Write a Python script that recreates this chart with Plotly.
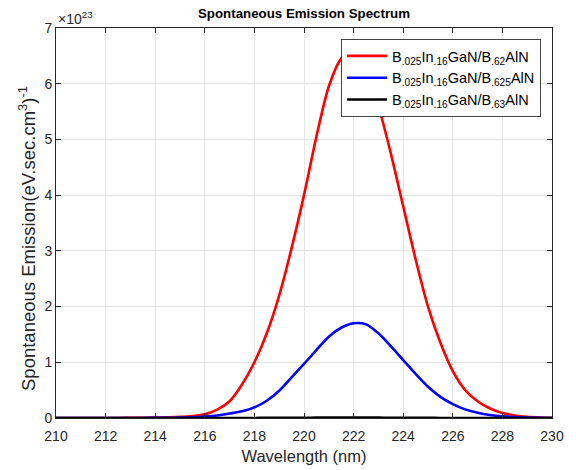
import plotly.graph_objects as go

# Wavelength samples (nm)
wavelength = [210, 210.5, 211, 211.5, 212, 212.5, 213, 213.5, 214, 214.5,
              215, 215.5, 216, 216.5, 217, 217.5, 218, 218.5, 219, 219.5,
              220, 220.5, 221, 221.5, 222, 222.5, 223, 223.5, 224, 224.5,
              225, 225.5, 226, 226.5, 227, 227.5, 228, 228.5, 229, 229.5, 230]

# Spontaneous emission in units of 1e23 (eV.sec.cm^3)^-1
red_e23 = [0, 0, 0, 0, 0, 0.001, 0.002, 0.004, 0.007, 0.012,
           0.02, 0.035, 0.065, 0.15, 0.3, 0.6, 1.0, 1.52, 2.2, 3.05,
           4.0, 5.05, 5.95, 6.45, 6.6, 6.3, 5.6, 4.75, 3.8, 2.85,
           2.0, 1.35, 0.84, 0.5, 0.3, 0.17, 0.09, 0.045, 0.02, 0.008, 0.003]

blue_e23 = [0, 0, 0, 0, 0, 0, 0, 0.001, 0.002, 0.003,
            0.006, 0.012, 0.025, 0.045, 0.08, 0.12, 0.19, 0.31, 0.49, 0.73,
            0.97, 1.22, 1.46, 1.62, 1.70, 1.68, 1.52, 1.29, 1.04, 0.79,
            0.56, 0.38, 0.25, 0.155, 0.095, 0.055, 0.03, 0.015, 0.007, 0.003, 0.001]

black_e23 = [0, 0, 0, 0, 0, 0, 0, 0, 0, 0,
             0, 0, 0, 0, 0, 0.001, 0.001, 0.002, 0.003, 0.004,
             0.005, 0.006, 0.007, 0.007, 0.007, 0.007, 0.006, 0.005, 0.004, 0.003,
             0.002, 0.001, 0.001, 0.001, 0, 0, 0, 0, 0, 0, 0]

names = ["B<sub>.025</sub>In<sub>.16</sub>GaN/B<sub>.62</sub>AlN",
         "B<sub>.025</sub>In<sub>.16</sub>GaN/B<sub>.625</sub>AlN",
         "B<sub>.025</sub>In<sub>.16</sub>GaN/B<sub>.63</sub>AlN"]
colors = ["#FF0000", "#0000FF", "#000000"]

x_ticks = [210, 212, 214, 216, 218, 220, 222, 224, 226, 228, 230]
y_ticks = [0, 1, 2, 3, 4, 5, 6, 7]

fig = go.Figure()
for ys, nm, c in zip([red_e23, blue_e23, black_e23], names, colors):
    fig.add_trace(go.Scatter(x=wavelength, y=ys, mode="lines", name=nm,
                             line=dict(color=c, width=2.6, shape="spline", smoothing=0.8)))

axcol = "#262626"
FONT = "Liberation Sans, Arial, sans-serif"
W, H = 576, 470
fig.update_layout(
    width=W, height=H,
    margin=dict(l=56, r=24, t=28, b=52, autoexpand=False),
    paper_bgcolor="white", plot_bgcolor="white",
    font=dict(family=FONT, size=14, color=axcol),
    title=dict(text="<b>Spontaneous Emission Spectrum</b>", x=304 / W, xanchor="center",
               xref="container", yref="container",
               y=1 - 13 / H, yanchor="middle", font=dict(size=13.3, color="#000000")),
    showlegend=True,
    legend=dict(x=0.978, y=0.972, xanchor="right", yanchor="top",
                bgcolor="white", bordercolor="#444444", borderwidth=1,
                font=dict(size=14.5, color="#000000"), tracegroupgap=0,
                itemwidth=40),
)
fig.update_xaxes(range=[210, 230], tickvals=x_ticks, ticks="inside", ticklen=5,
                 tickcolor=axcol, showline=True, linecolor=axcol, linewidth=1,
                 mirror="ticks", showgrid=True, gridcolor="#E6E6E6", zeroline=False,
                 ticklabelstandoff=5,
                 title=dict(text="Wavelength (nm)", font=dict(size=16.5), standoff=7),
                 tickfont=dict(size=14))
fig.update_yaxes(range=[0, 7], tickvals=y_ticks, ticks="inside", ticklen=5,
                 tickcolor=axcol, showline=True, linecolor=axcol, linewidth=1,
                 mirror="ticks", showgrid=True, gridcolor="#E6E6E6", zeroline=False,
                 tickfont=dict(size=14))
fig.add_annotation(text="Spontaneous Emission(eV.sec.cm<sup>3</sup>)<sup>-1</sup>",
                   xref="paper", yref="paper", x=(27 - 56) / 496, y=(418 - 239) / 390,
                   xanchor="center", yanchor="middle", textangle=-90, showarrow=False,
                   font=dict(size=18.5, color=axcol))
fig.add_annotation(text="×10<sup>23</sup>", xref="paper", yref="paper", x=0.0, y=1.0,
                   xanchor="left", yanchor="bottom", showarrow=False,
                   font=dict(size=14, color=axcol), yshift=-1)
fig.write_html("out.html", config={"displayModeBar": False},
               post_script="document.body.style.margin='0';document.body.style.overflow='hidden';")
